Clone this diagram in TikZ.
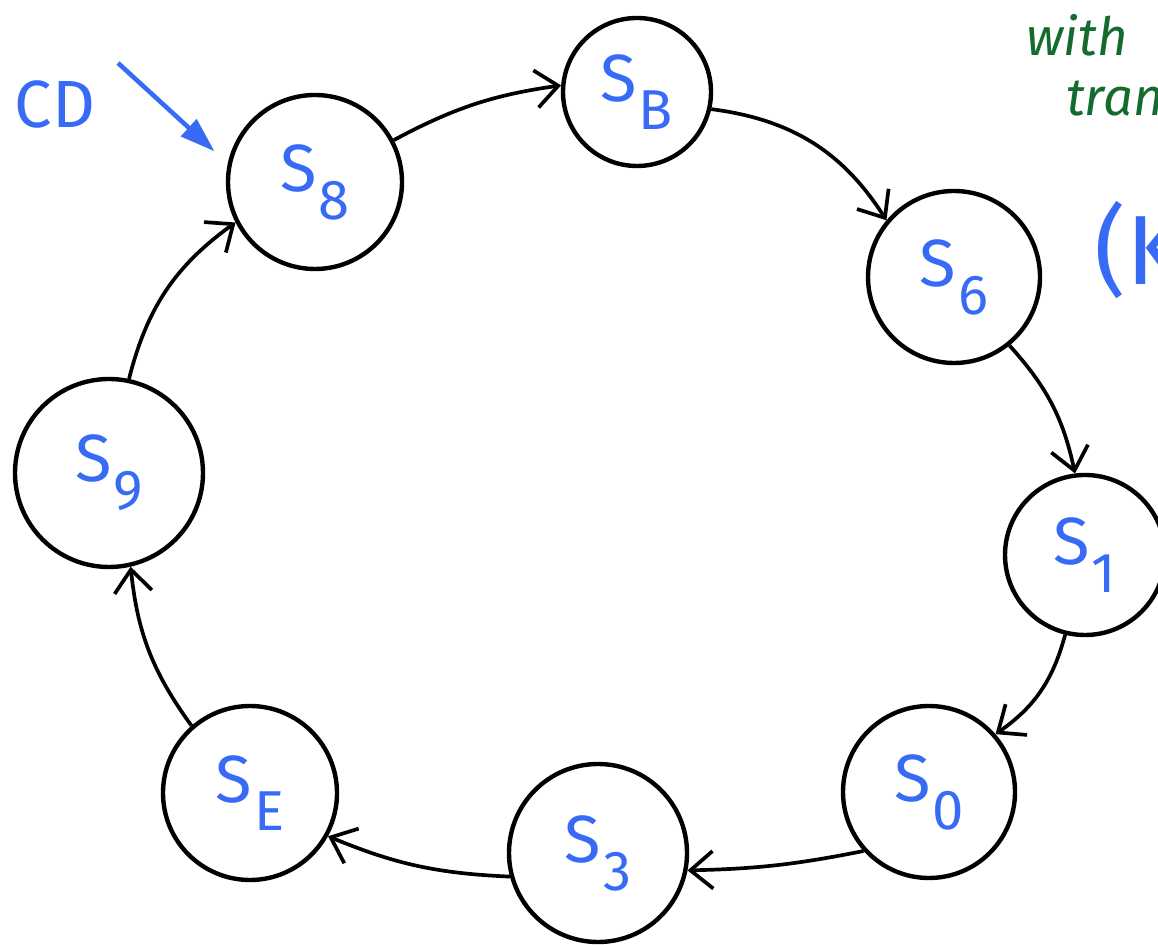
\documentclass[tikz,border=0pt]{standalone}
\usepackage{fontspec}
\setsansfont{Fira Sans}
\definecolor{penblue}{rgb}{0.22,0.42,0.96}
\definecolor{pengreen}{rgb}{0.08,0.42,0.18}
\usepackage{tikz}
\usetikzlibrary{arrows.meta,positioning}
\newcommand{\stlab}[1]{S\kern1pt\raisebox{-0.42em}{\fontsize{32}{32}\selectfont #1}}
\tikzset{
  state/.style={circle,draw,line width=2.5pt,inner sep=0pt,minimum size=3.44cm,
    text=penblue,font=\sffamily\fontsize{38}{38}\selectfont},
  trans/.style={line width=2.1pt,-{Straight Barb[length=4.5mm,width=7.5mm,line width=2.1pt]}},
  startarr/.style={penblue,line width=2.6pt,-{Triangle[length=7mm,width=4.5mm]}},
  bluetxt/.style={penblue,font=\sffamily\fontsize{38}{38}\selectfont},
  greentxt/.style={pengreen,font=\sffamily\itshape\fontsize{30}{30}\selectfont},
}
\begin{document}
\begin{tikzpicture}
        \useasboundingbox (0,0) rectangle (23.16,18.88);
        % states round the cycle
        \node[state,minimum size=3.48cm] (s8) at (6.30,15.24) {\stlab{8}};
        \node[state,minimum size=2.96cm] (sb) at (12.74,17.04) {\stlab{B}};
        \node[state] (s6) at (19.08,13.34) {\stlab{6}};
        \node[state,minimum size=3.2cm] (s1) at (21.70,7.78) {\stlab{1}};
        \node[state] (s0) at (18.58,3.04) {\stlab{0}};
        \node[state,minimum size=3.56cm] (s3) at (11.96,1.82) {\stlab{3}};
        \node[state,minimum size=3.48cm] (se) at (5.00,3.02) {\stlab{E}};
        \node[state,minimum size=3.76cm] (s9) at (2.18,9.42) {\stlab{9}};
        % transitions
        \draw[trans] (s8.28) to[bend left=10] (sb.175);
        \draw[trans] (sb.-13) to[bend left=25] (s6.140);
        \draw[trans] (s6.-51) to[bend left=15] (s1.97);
        \draw[trans] (s1.-104) to[bend left=20] (s0.41);
        \draw[trans] (s0.-138) to[bend left=5] (s3.-11);
        \draw[trans] (s3.195) to[bend left=10] (se.-29);
        \draw[trans] (se.131) to[bend left=15] (s9.-77);
        \draw[trans] (s9.78) to[bend left=20] (s8.207);
        % start marker
        \node[bluetxt] (cd) at (1.10,16.78) {CD};
        \coordinate (cdtail) at (2.36,17.62);
        \draw[startarr,shorten >=3.6mm] (cdtail) -- (s8.168);
        % notes at the right edge
        \node[greentxt,anchor=west] (with) at (20.40,18.18) {with};
        \node[greentxt,anchor=west] (tran) at (21.20,16.90) {tran};
        \node[penblue,anchor=west,font=\sffamily\fontsize{56}{56}\selectfont] (kpar) at (21.76,13.88) {(K};
\end{tikzpicture}
\end{document}
